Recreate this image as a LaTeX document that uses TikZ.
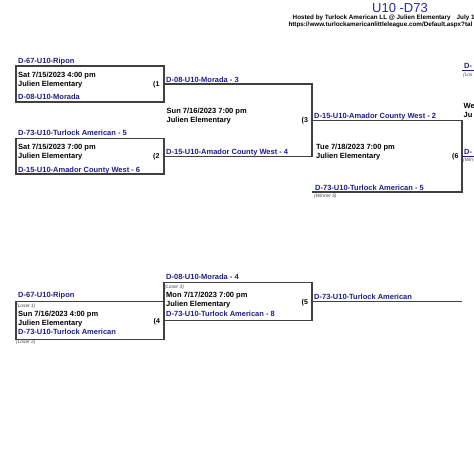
\documentclass[tikz,border=0pt]{standalone}
\usepackage{fontspec}
\setmainfont{Liberation Sans}
\definecolor{teamblue}{HTML}{1E1E86}
\definecolor{titleblue}{HTML}{2A2AAA}
\definecolor{bracketgray}{HTML}{404040}
\begin{document}
\begin{tikzpicture}[x=1pt,y=-1pt,
  bline/.style={draw=bracketgray,line width=1.1pt},
  team/.style={anchor=base west,inner sep=0pt,text=teamblue,font=\fontsize{7.5}{8}\selectfont\bfseries},
  info/.style={anchor=base west,inner sep=0pt,text=black,font=\fontsize{7.5}{8}\selectfont\bfseries},
  gnum/.style={anchor=base west,inner sep=0pt,text=black,font=\fontsize{7}{8}\selectfont\bfseries},
  note/.style={anchor=base west,inner sep=0pt,text=black!75,font=\fontsize{4.8}{5}\selectfont\itshape},
  hdr/.style={anchor=base west,inner sep=0pt,text=black,font=\fontsize{6.3}{7}\selectfont\bfseries},
  ttl/.style={anchor=base west,inner sep=0pt,text=titleblue,font=\fontsize{13}{14}\selectfont}]
\useasboundingbox (0,0) rectangle (474,474);
\fill[white] (0,0) rectangle (474,474);
\clip (0,0) rectangle (474,474);

% header
\node[ttl] (title) at (372,12.7) {U10 -D73};
\node[hdr] (host) at (292.5,19.5) {Hosted by Turlock American LL @ Julien Elementary\hspace{6pt}July 1};
\node[hdr] (url) at (288.3,26.3) {https://www.turlockamericanlittleleague.com/Default.aspx?tal};

% coordinates
\coordinate (b1a) at (16,66);   \coordinate (b1b) at (164,102);
\coordinate (b2a) at (16,138.3); \coordinate (b2b) at (164,174);
\coordinate (m3a) at (164,84);  \coordinate (m3b) at (312,84);
\coordinate (m3c) at (312,156.5); \coordinate (m3d) at (164,156.5);
\coordinate (m6a) at (312,120.3); \coordinate (m6b) at (462,120.3);
\coordinate (m6c) at (462,192);   \coordinate (m6d) at (312,192);
\coordinate (b4a) at (16,301.7);  \coordinate (b4b) at (164,339.5);
\coordinate (b5a) at (164,282.5); \coordinate (b5b) at (312,320.7);
\coordinate (o5a) at (312,301.7); \coordinate (o5b) at (462,301.7);
\coordinate (r1a) at (462,70.5);  \coordinate (r1b) at (474,70.5);
\coordinate (r2a) at (462,156.3); \coordinate (r2b) at (474,156.3);

% bracket lines
\draw[bline] (b1a) rectangle (b1b);
\draw[bline] (b2a) rectangle (b2b);
\draw[bline] (m3a) -- (m3b) -- (m3c) -- (m3d);
\draw[bline] (m6a) -- (m6b) -- (m6c) -- (m6d);
\draw[bline] (b4a) rectangle (b4b);
\draw[bline] (b5a) rectangle (b5b);
\draw[bline] (o5a) -- (o5b);
\draw[draw=teamblue,line width=0.6pt] (r1a) -- (r1b);
\draw[draw=teamblue,line width=0.6pt] (r2a) -- (r2b);

% match 1
\node[team] (g1t) at (18,63.5) {D-67-U10-Ripon};
\node[info] (g1d) at (18,77.3) {Sat 7/15/2023 4:00 pm};
\node[info] (g1v) at (18,86) {Julien Elementary};
\node[gnum] (g1n) at (153,86) {(1};
\node[team] (g1b) at (18,99.8) {D-08-U10-Morada};

% match 2
\node[team] (g2t) at (18,135.5) {D-73-U10-Turlock American - 5};
\node[info] (g2d) at (18,149) {Sat 7/15/2023 7:00 pm};
\node[info] (g2v) at (18,158.3) {Julien Elementary};
\node[gnum] (g2n) at (153,158.3) {(2};
\node[team] (g2b) at (18,172) {D-15-U10-Amador County West - 6};

% match 3
\node[team] (g3t) at (166,82.2) {D-08-U10-Morada - 3};
\node[info] (g3d) at (166.5,113.3) {Sun 7/16/2023 7:00 pm};
\node[info] (g3v) at (166.5,122.7) {Julien Elementary};
\node[gnum] (g3n) at (301.5,122.7) {(3};
\node[team] (g3b) at (166,154.3) {D-15-U10-Amador County West - 4};

% match 6
\node[team] (g6t) at (314,118) {D-15-U10-Amador County West - 2};
\node[info] (g6d) at (316,149) {Tue 7/18/2023 7:00 pm};
\node[info] (g6v) at (316,158.3) {Julien Elementary};
\node[gnum] (g6n) at (452,158.3) {(6};
\node[team] (g6b) at (315,190) {D-73-U10-Turlock American - 5};
\node[note] (g6w) at (314,197.5) {(Winner 5)};

% match 7 (cut at the edge in the reference)
\node[team] (g7t) at (464,68.7) {D-};
\node[note] (g7l) at (463,76.5) {(Los};
\node[info] (g7d) at (463.5,108) {We};
\node[info] (g7v) at (463.5,117) {Ju};
\node[team] (g7b) at (464,154) {D-};
\node[note] (g7w) at (463,161.5) {(Win};

% match 4
\node[team] (g4t) at (18,297.7) {D-67-U10-Ripon};
\node[note] (g4l1) at (16,307.5) {(Loser 1)};
\node[info] (g4d) at (18,316) {Sun 7/16/2023 4:00 pm};
\node[info] (g4v) at (18,325) {Julien Elementary};
\node[gnum] (g4n) at (153.5,323.3) {(4};
\node[team] (g4b) at (18,334.5) {D-73-U10-Turlock American};
\node[note] (g4l2) at (16,343.6) {(Loser 2)};

% match 5
\node[team] (g5t) at (166,279.3) {D-08-U10-Morada - 4};
\node[note] (g5l) at (164.5,288) {(Loser 3)};
\node[info] (g5d) at (166,297.3) {Mon 7/17/2023 7:00 pm};
\node[info] (g5v) at (166,306) {Julien Elementary};
\node[gnum] (g5n) at (301.5,304) {(5};
\node[team] (g5b) at (166,316.5) {D-73-U10-Turlock American - 8};
\node[team] (g5o) at (314,299) {D-73-U10-Turlock American};
\end{tikzpicture}
\end{document}
